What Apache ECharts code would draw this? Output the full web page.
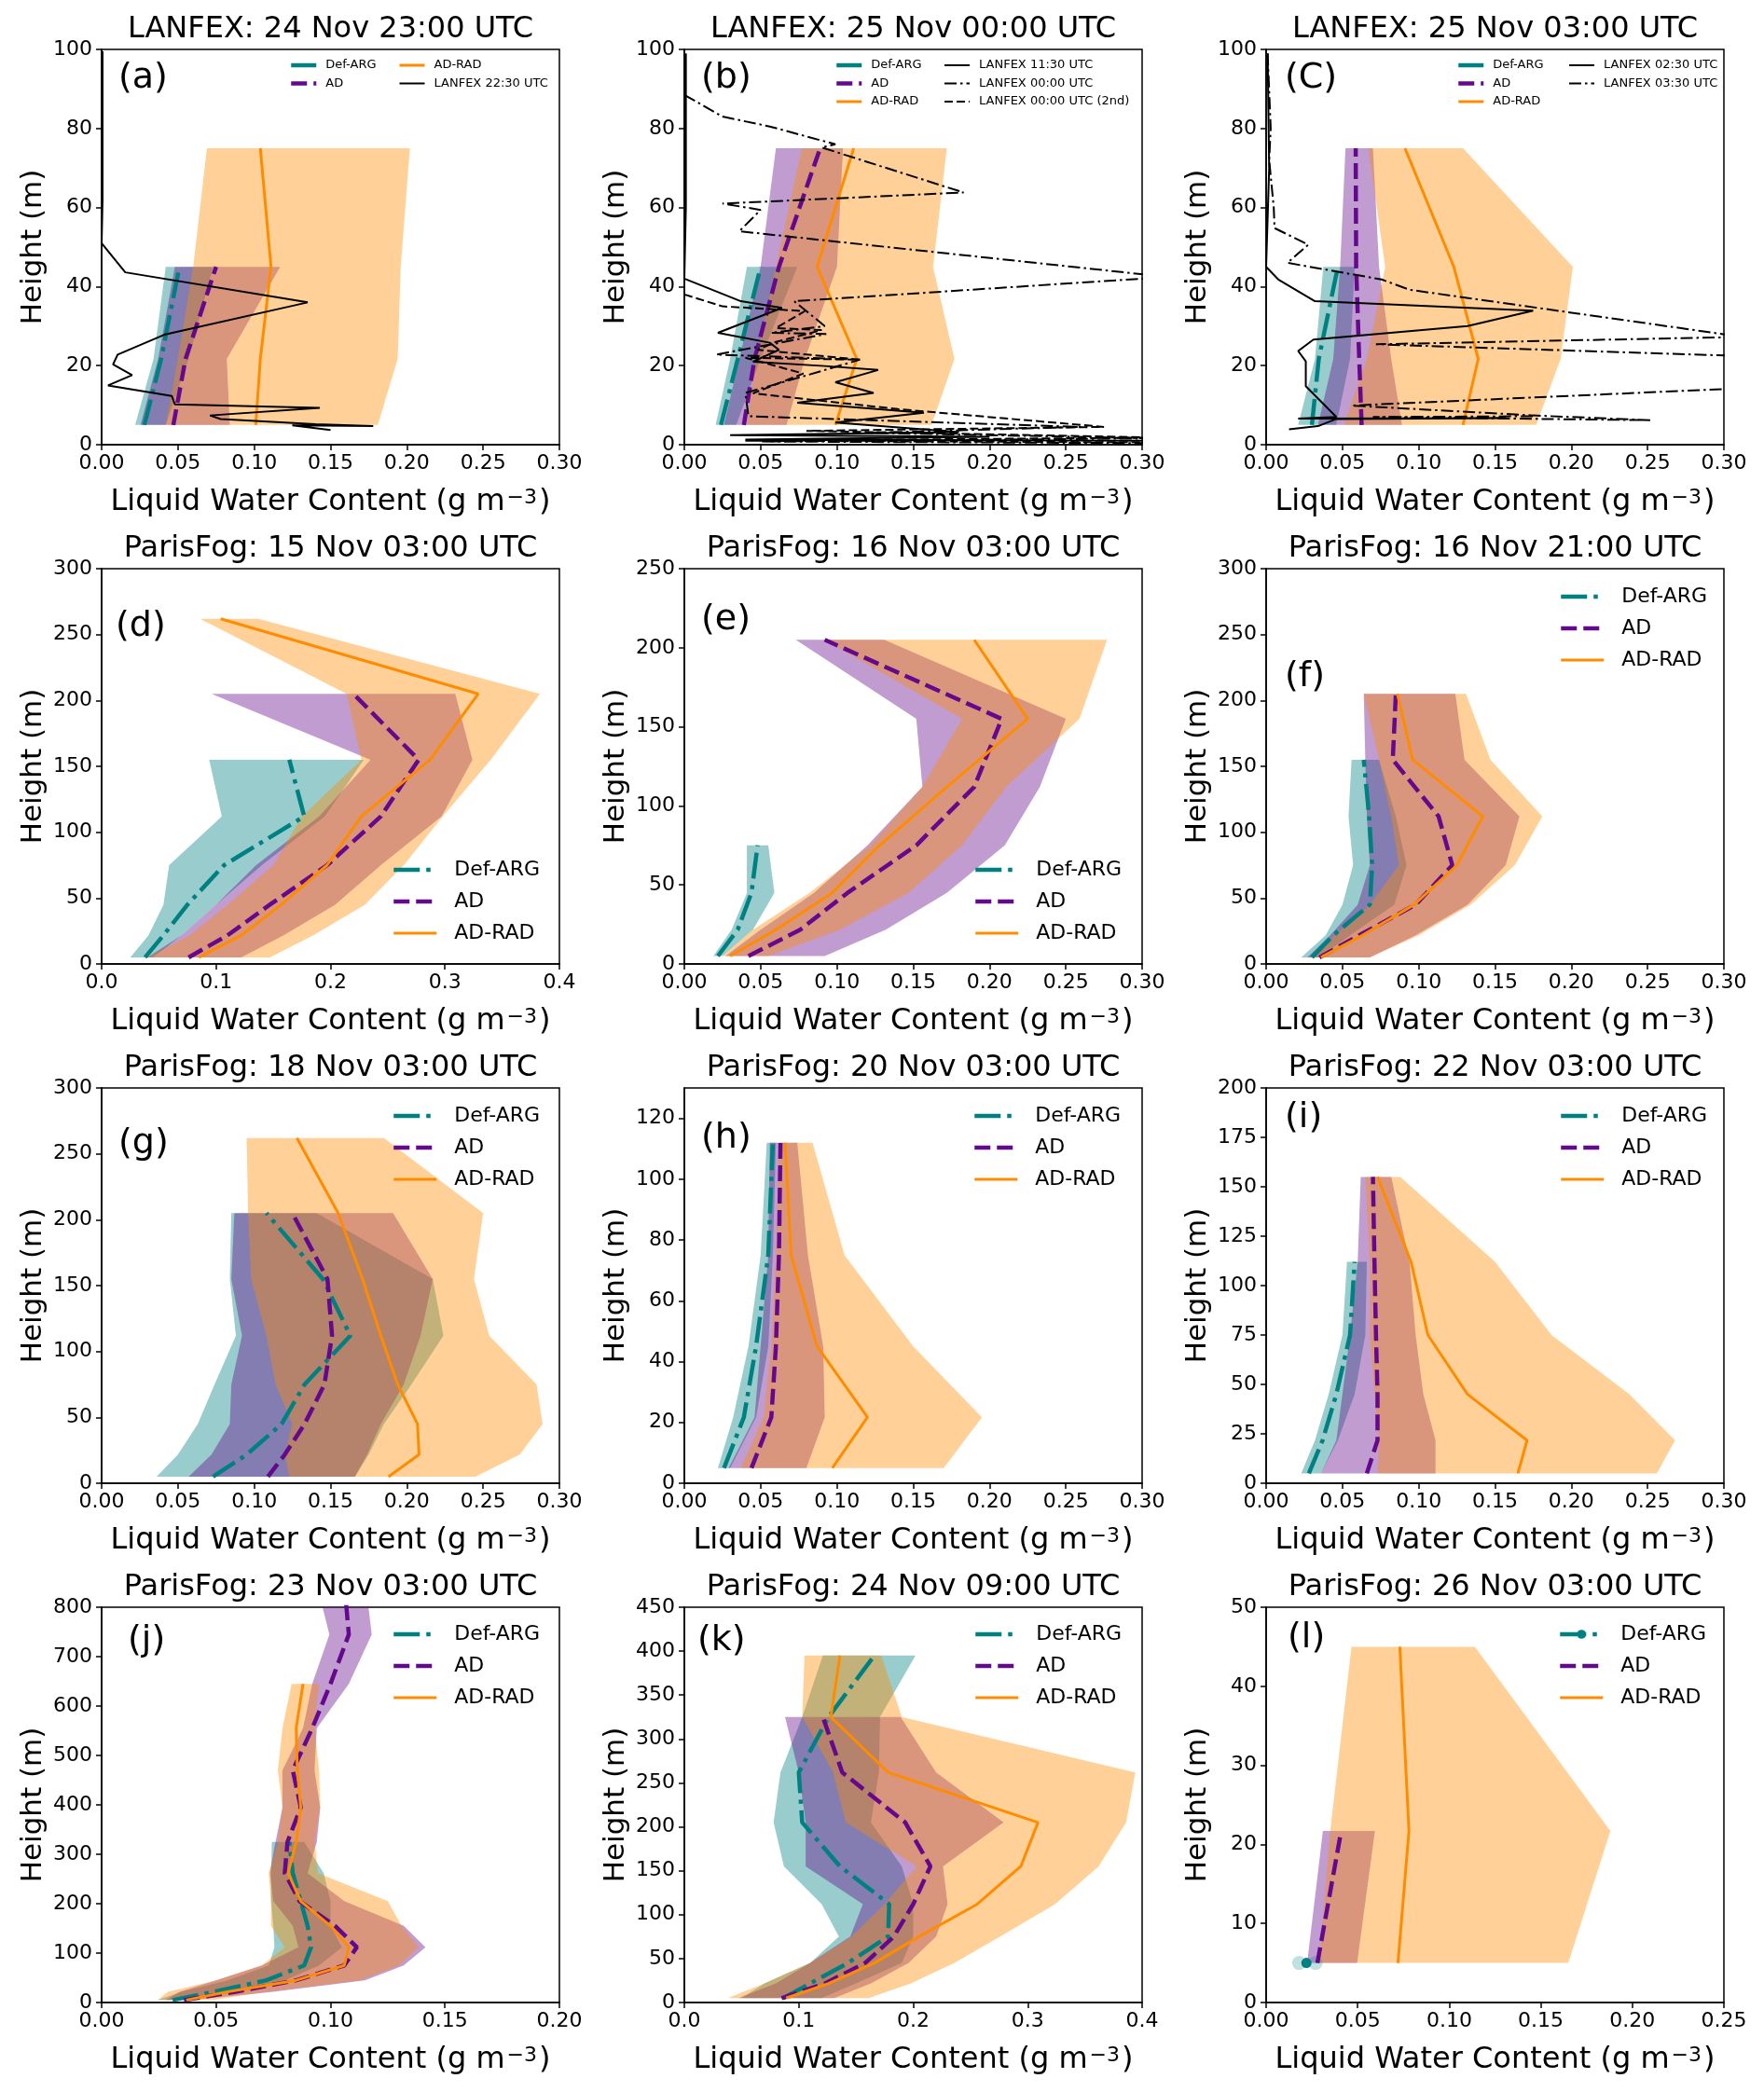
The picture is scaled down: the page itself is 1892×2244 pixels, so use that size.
<!DOCTYPE html>
<html><head><meta charset="utf-8">
<script src="https://cdn.jsdelivr.net/npm/echarts@6/dist/echarts.min.js"></script>
<style>html,body{margin:0;padding:0;background:#fff}#c{width:1892px;height:2244px}</style>
</head><body><div id="c"></div>
<script>
const FONT = 'DejaVu Sans';
// model levels (m)
const LEVELS = [5, 21.7, 45, 75, 112, 155, 205, 262, 325, 395, 470, 555, 645, 745, 850];

const titles = ['LANFEX: 24 Nov 23:00 UTC','LANFEX: 25 Nov 00:00 UTC','LANFEX: 25 Nov 03:00 UTC',
  'ParisFog: 15 Nov 03:00 UTC','ParisFog: 16 Nov 03:00 UTC','ParisFog: 16 Nov 21:00 UTC',
  'ParisFog: 18 Nov 03:00 UTC','ParisFog: 20 Nov 03:00 UTC','ParisFog: 22 Nov 03:00 UTC',
  'ParisFog: 23 Nov 03:00 UTC','ParisFog: 24 Nov 09:00 UTC','ParisFog: 26 Nov 03:00 UTC'];
const letters = ['(a)','(b)','(C)','(d)','(e)','(f)','(g)','(h)','(i)','(j)','(k)','(l)'];
const xMax = [0.3,0.3,0.3,0.4,0.3,0.3,0.3,0.3,0.3,0.2,0.4,0.25];
const xStep = [0.05,0.05,0.05,0.1,0.05,0.05,0.05,0.05,0.05,0.05,0.1,0.05];
const xDigits = [2,2,2,1,2,2,2,2,2,2,1,2];
const yMax = [100,100,100,300,250,300,300,130,200,800,450,50];
const yStep = [20,20,20,50,50,50,50,20,25,100,50,10];

// ---- (a) ----
const a_def_mean=[0.028,0.039,0.051], a_def_lo=[0.022,0.034,0.042], a_def_hi=[0.042,0.057,0.073];
const a_ad_mean=[0.047,0.055,0.075], a_ad_lo=[0.0255,0.037,0.048], a_ad_hi=[0.084,0.082,0.117];
const a_rad_mean=[0.101,0.104,0.111,0.104], a_rad_lo=[0.042,0.050,0.060,0.069], a_rad_hi=[0.181,0.194,0.196,0.202];
const a_obs1_x=[0.0006,0.0006,0.000,0.0155,0.135,0.0417,0.0105,0.0075,0.020,0.0042,0.046,0.048,0.143,0.071,0.078,0.14,0.178,0.125,0.15];
const a_obs1_h=[99.5,62,51,43.6,36.0,27.9,22.8,20.3,17.6,15.0,12.3,10.2,9.3,7.4,6.5,5.2,4.7,4.9,3.7];
// ---- (b) ----
const b_def_mean=[0.024,0.035,0.050], b_def_lo=[0.0205,0.030,0.041], b_def_hi=[0.034,0.050,0.074];
const b_ad_mean=[0.039,0.046,0.062,0.089], b_ad_lo=[0.026,0.036,0.050,0.060], b_ad_hi=[0.067,0.079,0.100,0.104];
const b_rad_mean=[0.099,0.113,0.087,0.111], b_rad_lo=[0.041,0.047,0.060,0.077], b_rad_hi=[0.162,0.177,0.163,0.172];
const b_obs1_x=[0.001,0.001,0.000,0.037,0.064,0.022,0.056,0.062,0.045,0.092,0.127,0.099,0.124,0.074,0.157,0.099,0.180,0.030,0.200,0.040,0.310];
const b_obs1_h=[99,60,42,36.3,34.6,28.3,25.8,24.0,21.0,19.9,18.9,15.8,13.1,10.6,8.1,5.6,3.2,2.4,2.0,1.3,1.0];
const b_obs2_x=[0.000,0.025,0.056,0.099,0.090,0.183,0.025,0.050,0.036,0.310,0.300,0.072,0.080,0.092,0.057,0.093,0.021,0.115,0.078,0.040,0.042,0.260,0.120,0.310,0.050,0.310];
const b_obs2_h=[88.5,83,80.5,76,75.2,63.8,61,59.4,54,42.7,42,36.3,33.8,30,28.3,28,22.8,21.5,17.3,13.1,7.2,4.5,3.0,1.6,0.8,0.4];
const b_obs3_x=[0.000,0.025,0.079,0.060,0.090,0.060,0.048,0.115,0.040,0.078,0.045,0.140,0.275,0.080,0.310,0.040,0.310];
const b_obs3_h=[38,35,33.8,29.5,29,26,24,21.5,22,18,13,9,4.5,3.5,1.8,1.0,0.6];
// ---- (c) ----
const c_def_mean=[0.030,0.0345,0.047], c_def_lo=[0.021,0.032,0.0375], c_def_hi=[0.046,0.055,0.058];
const c_ad_mean=[0.0626,0.061,0.059,0.0587], c_ad_lo=[0.034,0.044,0.0485,0.052], c_ad_hi=[0.089,0.082,0.074,0.070];
const c_rad_mean=[0.129,0.139,0.123,0.091], c_rad_lo=[0.051,0.066,0.078,0.067], c_rad_hi=[0.177,0.193,0.201,0.129];
const c_obs1_x=[0.001,0.002,0.000,0.008,0.032,0.175,0.132,0.031,0.021,0.026,0.026,0.046,0.021,0.157,0.046,0.034,0.015];
const c_obs1_h=[99,70,45,41.8,36.3,33.9,30,26.6,23.7,21.1,14.8,7.0,6.6,6.7,6.5,4.7,3.9];
const c_obs2_x=[0.001,0.003,0.002,0.005,0.0055,0.0276,0.014,0.0757,0.094,0.33,0.33,0.072,0.33,0.33,0.056,0.175,0.252,0.070,0.175];
const c_obs2_h=[99,80,72,60,54.8,50.6,46,41.8,39.2,26.3,27.4,25.4,22.2,14.6,9.9,7.4,6.2,7.0,7.2];
// ---- (d) ----
const d_def_mean=[0.038,0.054,0.075,0.107,0.177,0.164], d_def_lo=[0.025,0.041,0.054,0.059,0.105,0.094], d_def_hi=[0.045,0.070,0.100,0.140,0.195,0.229];
const d_ad_mean=[0.076,0.110,0.147,0.197,0.244,0.277,0.220], d_ad_lo=[0.040,0.070,0.100,0.135,0.190,0.235,0.096], d_ad_hi=[0.122,0.159,0.204,0.244,0.297,0.324,0.309];
const d_rad_mean=[0.085,0.122,0.157,0.197,0.227,0.287,0.329,0.104], d_rad_lo=[0.040,0.077,0.110,0.150,0.175,0.227,0.214,0.086], d_rad_hi=[0.147,0.185,0.230,0.264,0.298,0.340,0.383,0.137];
// ---- (e) ----
const e_def_mean=[0.022,0.035,0.044,0.048], e_def_lo=[0.019,0.031,0.041,0.041], e_def_hi=[0.025,0.045,0.059,0.055];
const e_ad_mean=[0.042,0.076,0.107,0.152,0.190,0.208,0.092], e_ad_lo=[0.027,0.050,0.085,0.120,0.156,0.152,0.073], e_ad_hi=[0.092,0.132,0.172,0.210,0.233,0.250,0.131];
const e_rad_mean=[0.030,0.060,0.097,0.128,0.172,0.225,0.190], e_rad_lo=[0.025,0.045,0.082,0.122,0.156,0.182,0.092], e_rad_hi=[0.055,0.102,0.147,0.182,0.211,0.259,0.277];
// ---- (f) ----
const f_def_mean=[0.030,0.044,0.068,0.0695,0.0675,0.064], f_def_lo=[0.023,0.039,0.050,0.057,0.054,0.056], f_def_hi=[0.035,0.055,0.084,0.092,0.085,0.074];
const f_ad_mean=[0.035,0.061,0.098,0.122,0.113,0.083,0.085], f_ad_lo=[0.027,0.042,0.060,0.068,0.066,0.065,0.064], f_ad_hi=[0.068,0.098,0.132,0.157,0.166,0.130,0.124];
const f_rad_mean=[0.036,0.063,0.097,0.125,0.142,0.096,0.086], f_rad_lo=[0.030,0.045,0.068,0.087,0.082,0.074,0.064], f_rad_hi=[0.068,0.100,0.134,0.163,0.181,0.147,0.131];
// ---- (g) ----
const g_def_mean=[0.073,0.095,0.118,0.133,0.163,0.145,0.108], g_def_lo=[0.036,0.050,0.063,0.074,0.088,0.084,0.085], g_def_hi=[0.166,0.175,0.185,0.203,0.224,0.217,0.141];
const g_ad_mean=[0.109,0.120,0.133,0.146,0.151,0.148,0.125], g_ad_lo=[0.057,0.072,0.084,0.085,0.092,0.085,0.087], g_ad_hi=[0.166,0.174,0.183,0.198,0.209,0.217,0.191];
const g_rad_mean=[0.188,0.208,0.207,0.194,0.183,0.171,0.155,0.128], g_rad_lo=[0.123,0.120,0.125,0.114,0.108,0.098,0.096,0.095], g_rad_hi=[0.245,0.274,0.289,0.285,0.254,0.244,0.250,0.185];
// ---- (h) ----
const h_def_mean=[0.026,0.039,0.047,0.055,0.058], h_def_lo=[0.022,0.032,0.042,0.050,0.054], h_def_hi=[0.030,0.047,0.055,0.058,0.060];
const h_ad_mean=[0.044,0.057,0.060,0.062,0.063], h_ad_lo=[0.029,0.046,0.050,0.055,0.056], h_ad_hi=[0.080,0.092,0.091,0.081,0.074];
const h_rad_mean=[0.097,0.120,0.087,0.070,0.066], h_rad_lo=[0.037,0.052,0.057,0.060,0.062], h_rad_hi=[0.170,0.195,0.150,0.105,0.084];
// ---- (i) ----
const i_def_mean=[0.028,0.037,0.046,0.055,0.058], i_def_lo=[0.023,0.032,0.041,0.050,0.053], i_def_hi=[0.036,0.047,0.058,0.065,0.066];
const i_ad_mean=[0.066,0.073,0.073,0.072,0.071,0.070], i_ad_lo=[0.036,0.046,0.050,0.055,0.060,0.062], i_ad_hi=[0.111,0.111,0.103,0.098,0.094,0.082];
const i_rad_mean=[0.165,0.171,0.132,0.106,0.095,0.073], i_rad_lo=[0.073,0.074,0.071,0.068,0.068,0.065], i_rad_hi=[0.256,0.268,0.238,0.187,0.150,0.088];
// ---- (j) ----
const j_def_mean=[0.031,0.049,0.072,0.0885,0.0915,0.090,0.087,0.0835,0.082], j_def_lo=[0.0245,0.035,0.055,0.073,0.0755,0.075,0.074,0.074,0.0744], j_def_hi=[0.033,0.060,0.080,0.095,0.105,0.100,0.100,0.097,0.0885];
const j_ad_mean=[0.036,0.0585,0.085,0.106,0.1115,0.102,0.0865,0.080,0.0812,0.087,0.0835,0.092,0.100,0.108,0.106];
const j_ad_lo=[0.028,0.034,0.050,0.070,0.086,0.0835,0.075,0.0735,0.076,0.079,0.079,0.088,0.092,0.0995,0.0938];
const j_ad_hi=[0.040,0.075,0.115,0.132,0.1415,0.132,0.106,0.090,0.094,0.0955,0.093,0.094,0.108,0.118,0.1153];
const j_rad_mean=[0.037,0.055,0.085,0.106,0.108,0.100,0.087,0.0815,0.085,0.087,0.0855,0.085,0.088];
const j_rad_lo=[0.0245,0.029,0.050,0.070,0.080,0.074,0.074,0.073,0.077,0.079,0.077,0.079,0.083];
const j_rad_hi=[0.049,0.072,0.113,0.130,0.1385,0.131,0.125,0.0945,0.093,0.0955,0.095,0.093,0.095];
// ---- (k) ----
const k_def_mean=[0.0865,0.110,0.143,0.178,0.179,0.136,0.103,0.100,0.126,0.166], k_def_lo=[0.050,0.070,0.110,0.135,0.120,0.087,0.078,0.084,0.103,0.121], k_def_hi=[0.120,0.150,0.190,0.200,0.200,0.190,0.163,0.170,0.171,0.202];
const k_ad_mean=[0.085,0.123,0.158,0.183,0.200,0.215,0.193,0.138,0.121], k_ad_lo=[0.047,0.080,0.110,0.145,0.156,0.106,0.106,0.100,0.088], k_ad_hi=[0.131,0.163,0.196,0.220,0.230,0.226,0.279,0.220,0.189];
const k_rad_mean=[0.089,0.126,0.166,0.205,0.256,0.294,0.309,0.178,0.128,0.136], k_rad_lo=[0.038,0.070,0.110,0.146,0.175,0.203,0.141,0.130,0.103,0.105], k_rad_hi=[0.161,0.198,0.236,0.276,0.324,0.362,0.386,0.394,0.190,0.172];
// ---- (l) ----
const l_def_mean=[0.022], l_def_lo=[0.018], l_def_hi=[0.027];
const l_ad_mean=[0.028,0.041], l_ad_lo=[0.0224,0.031], l_ad_hi=[0.0497,0.0594];
const l_rad_mean=[0.072,0.078,0.073], l_rad_lo=[0.029,0.035,0.0466], l_rad_hi=[0.165,0.188,0.114];

// ---------- styles / layout ----------
const TEAL='#008080', PURPLE='#64088c', ORANGE='#ff8c00';
const ALPHA=0.4;
function rgba(hex,a){const n=parseInt(hex.slice(1),16);return `rgba(${n>>16},${(n>>8)&255},${n&255},${a})`;}
const colLeft=[109,734,1358], rowTop=[53,610,1167,1724], PW=491, PH=424;
const letterDx=[18,18,20,15,18,20,18,18,20,28,14,23];
const letterDy=[31,31,31,62,55,116,60,54,32,36,36,33];
const LS = {
  def:{color:TEAL,width:4.5,type:[28,7,4.5,7]},
  ad:{color:PURPLE,width:4.5,type:[17,7]},
  rad:{color:ORANGE,width:3,type:'solid'},
  solid:{color:'#000',width:2,type:'solid'},
  dashdot:{color:'#000',width:2,type:[13,4,2.5,4]},
  dashed:{color:'#000',width:2,type:[9,4]}
};

const panels = [
 {id:'a', def:[a_def_mean,a_def_lo,a_def_hi], ad:[a_ad_mean,a_ad_lo,a_ad_hi], rad:[a_rad_mean,a_rad_lo,a_rad_hi],
  obs:[{name:'LANFEX 22:30 UTC',x:a_obs1_x,h:a_obs1_h,st:'solid'}],
  legends:[{items:['def','ad'],dx:201,cy:17},{items:['rad','obs0'],dx:318,cy:17}], small:true},
 {id:'b', def:[b_def_mean,b_def_lo,b_def_hi], ad:[b_ad_mean,b_ad_lo,b_ad_hi], rad:[b_rad_mean,b_rad_lo,b_rad_hi],
  obs:[{name:'LANFEX 11:30 UTC',x:b_obs1_x,h:b_obs1_h,st:'solid'},{name:'LANFEX 00:00 UTC',x:b_obs2_x,h:b_obs2_h,st:'dashdot'},{name:'LANFEX 00:00 UTC (2nd)',x:b_obs3_x,h:b_obs3_h,st:'dashed'}],
  legends:[{items:['def','ad','rad'],dx:161,cy:17},{items:['obs0','obs1','obs2'],dx:278,cy:17}], small:true},
 {id:'c', def:[c_def_mean,c_def_lo,c_def_hi], ad:[c_ad_mean,c_ad_lo,c_ad_hi], rad:[c_rad_mean,c_rad_lo,c_rad_hi],
  obs:[{name:'LANFEX 02:30 UTC',x:c_obs1_x,h:c_obs1_h,st:'solid'},{name:'LANFEX 03:30 UTC',x:c_obs2_x,h:c_obs2_h,st:'dashdot'}],
  legends:[{items:['def','ad','rad'],dx:204,cy:17},{items:['obs0','obs1'],dx:324,cy:17}], small:true},
 {id:'d', def:[d_def_mean,d_def_lo,d_def_hi], ad:[d_ad_mean,d_ad_lo,d_ad_hi], rad:[d_rad_mean,d_rad_lo,d_rad_hi], obs:[], legends:[{items:['def','ad','rad'],dx:311,cy:323}]},
 {id:'e', def:[e_def_mean,e_def_lo,e_def_hi], ad:[e_ad_mean,e_ad_lo,e_ad_hi], rad:[e_rad_mean,e_rad_lo,e_rad_hi], obs:[], legends:[{items:['def','ad','rad'],dx:310,cy:323}]},
 {id:'f', def:[f_def_mean,f_def_lo,f_def_hi], ad:[f_ad_mean,f_ad_lo,f_ad_hi], rad:[f_rad_mean,f_rad_lo,f_rad_hi], obs:[], legends:[{items:['def','ad','rad'],dx:314,cy:30}]},
 {id:'g', def:[g_def_mean,g_def_lo,g_def_hi], ad:[g_ad_mean,g_ad_lo,g_ad_hi], rad:[g_rad_mean,g_rad_lo,g_rad_hi], obs:[], legends:[{items:['def','ad','rad'],dx:311,cy:30}]},
 {id:'h', def:[h_def_mean,h_def_lo,h_def_hi], ad:[h_ad_mean,h_ad_lo,h_ad_hi], rad:[h_rad_mean,h_rad_lo,h_rad_hi], obs:[], legends:[{items:['def','ad','rad'],dx:309,cy:30}]},
 {id:'i', def:[i_def_mean,i_def_lo,i_def_hi], ad:[i_ad_mean,i_ad_lo,i_ad_hi], rad:[i_rad_mean,i_rad_lo,i_rad_hi], obs:[], legends:[{items:['def','ad','rad'],dx:314,cy:30}]},
 {id:'j', def:[j_def_mean,j_def_lo,j_def_hi], ad:[j_ad_mean,j_ad_lo,j_ad_hi], rad:[j_rad_mean,j_rad_lo,j_rad_hi], obs:[], legends:[{items:['def','ad','rad'],dx:311,cy:29}]},
 {id:'k', def:[k_def_mean,k_def_lo,k_def_hi], ad:[k_ad_mean,k_ad_lo,k_ad_hi], rad:[k_rad_mean,k_rad_lo,k_rad_hi], obs:[], legends:[{items:['def','ad','rad'],dx:310,cy:29}]},
 {id:'l', def:[l_def_mean,l_def_lo,l_def_hi], ad:[l_ad_mean,l_ad_lo,l_ad_hi], rad:[l_rad_mean,l_rad_lo,l_rad_hi], obs:[], legends:[{items:['def','ad','rad'],dx:313,cy:29}], point:true}
];
const SNAME={def:'Def-ARG',ad:'AD',rad:'AD-RAD'};

function bandRender(lo,hi){
  return function(params,api){
    if(params.dataIndex!==0) return;
    const pts=[];
    for(let k=0;k<lo.length;k++) pts.push(api.coord([lo[k],LEVELS[k]]));
    for(let k=hi.length-1;k>=0;k--) pts.push(api.coord([hi[k],LEVELS[k]]));
    return {type:'polygon',shape:{points:pts},style:{fill:api.visual('color')}};
  };
}

const option={backgroundColor:'#fff',animation:false,textStyle:{fontFamily:FONT},
  grid:[],xAxis:[],yAxis:[],series:[],legend:[],graphic:[]};

panels.forEach((p,i)=>{
  const col=i%3,row=Math.floor(i/3);
  const L=colLeft[col],T=rowTop[row];
  option.grid.push({left:L,top:T,width:PW,height:PH,show:true,borderColor:'#000',borderWidth:1.5,backgroundColor:'transparent'});
  const yt=[]; for(let v=0;v<=yMax[i]+1e-9;v+=yStep[i]) yt.push(v);
  option.xAxis.push({gridIndex:i,type:'value',min:0,max:xMax[i],interval:xStep[i],
    axisLine:{show:true,onZero:false,lineStyle:{color:'#000',width:1.5}},
    axisTick:{show:true,length:6,lineStyle:{color:'#000',width:1.5}},
    axisLabel:{show:true,interval:0,margin:9,fontSize:22,fontFamily:FONT,color:'#000',formatter:v=>Number(v).toFixed(xDigits[i])},
    splitLine:{show:false},
    name:'Liquid Water Content (g m{sup|−3})',nameLocation:'middle',nameGap:46,
    nameTextStyle:{fontSize:32,fontFamily:FONT,color:'#000',rich:{sup:{fontSize:22,fontFamily:FONT,color:'#000',verticalAlign:'top',padding:[0,2,10,2]}}}});
  option.yAxis.push({gridIndex:i,type:'value',min:0,max:yMax[i],interval:yStep[i],
    axisLine:{show:true,onZero:false,lineStyle:{color:'#000',width:1.5}},
    axisTick:{show:true,length:6,lineStyle:{color:'#000',width:1.5},customValues:yt},
    axisLabel:{show:true,margin:10,fontSize:22,fontFamily:FONT,color:'#000',customValues:yt},
    splitLine:{show:false},
    name:'Height (m)',nameLocation:'middle',nameGap:58,
    nameTextStyle:{fontSize:31,fontFamily:FONT,color:'#000'}});

  const colors={def:TEAL,ad:PURPLE,rad:ORANGE};
  ['def','ad','rad'].forEach(key=>{
    const [mean,lo,hi]=p[key];
    if(lo.length>1){
      option.series.push({type:'custom',name:p.id+'|band-'+key,xAxisIndex:i,yAxisIndex:i,clip:true,silent:true,z:2,
        itemStyle:{color:rgba(colors[key],ALPHA)},data:[[lo[0],LEVELS[0]]],encode:{x:0,y:1},renderItem:bandRender(lo,hi)});
    } else {
      option.series.push({type:'scatter',name:p.id+'|band-'+key,xAxisIndex:i,yAxisIndex:i,silent:true,z:2,symbolSize:15,
        itemStyle:{color:rgba(colors[key],0.3)},data:[[lo[0],LEVELS[0]],[hi[0],LEVELS[0]]]});
    }
  });
  ['def','ad','rad'].forEach(key=>{
    const [mean]=p[key];
    const st=LS[key];
    const isPt = p.point && key==='def';
    option.series.push({type:'line',name:p.id+'|'+SNAME[key],xAxisIndex:i,yAxisIndex:i,z:3,silent:true,clip:true,
      symbol:isPt?'circle':'none',showSymbol:isPt,symbolSize:11,
      itemStyle:{color:st.color},
      lineStyle:{color:st.color,width:st.width,type:st.type},
      data:mean.map((m,k)=>[m,LEVELS[k]])});
  });
  p.obs.forEach(o=>{
    const st=LS[o.st];
    option.series.push({type:'line',name:p.id+'|'+o.name,xAxisIndex:i,yAxisIndex:i,z:4,silent:true,clip:true,
      symbol:'none',showSymbol:false,itemStyle:{color:'#000'},
      lineStyle:{color:'#000',width:st.width,type:st.type},
      data:o.x.map((x,k)=>[x,o.h[k]])});
  });

  // legends
  p.legends.forEach(lg=>{
    const small=!!p.small;
    const lh=small?15:24, fs=small?13:22, gap=small?4.5:10;
    const data=lg.items.map(it=>{
      let name,st;
      if(it.startsWith('obs')){const o=p.obs[+it.slice(3)];name=p.id+'|'+o.name;st=LS[o.st];}
      else {name=p.id+'|'+SNAME[it];st=LS[it];}
      const showSym = p.point && it==='def';
      return {name,itemStyle:{opacity:showSym?1:0,color:st.color,borderWidth:0},
        lineStyle:{color:st.color,width:st.width,type:st.type}};
    });
    option.legend.push({orient:'vertical',left:L+lg.dx,top:T+lg.cy-lh/2,padding:0,itemGap:gap,
      itemWidth:small?27:46,itemHeight:small?10:12,selectedMode:false,
      formatter:n=>n.split('|')[1],
      textStyle:{fontFamily:FONT,fontSize:fs,color:'#000',lineHeight:lh,padding:[0,0,0,small?5:14]},
      data});
  });

  // title and panel letter
  option.graphic.push({type:'text',silent:true,z:100,x:L+PW/2,y:T-21,
    style:{text:titles[i],fill:'#000',font:`32px "${FONT}"`,textAlign:'center',textVerticalAlign:'middle',align:'center',verticalAlign:'middle'}});
  option.graphic.push({type:'text',silent:true,z:100,x:L+letterDx[i],y:T+letterDy[i],
    style:{text:letters[i],fill:'#000',font:`38px "${FONT}"`,textAlign:'left',textVerticalAlign:'middle',align:'left',verticalAlign:'middle'}});
});

const chart=echarts.init(document.getElementById('c'),null,{renderer:'canvas',width:1892,height:2244});
chart.setOption(option);
</script></body></html>
